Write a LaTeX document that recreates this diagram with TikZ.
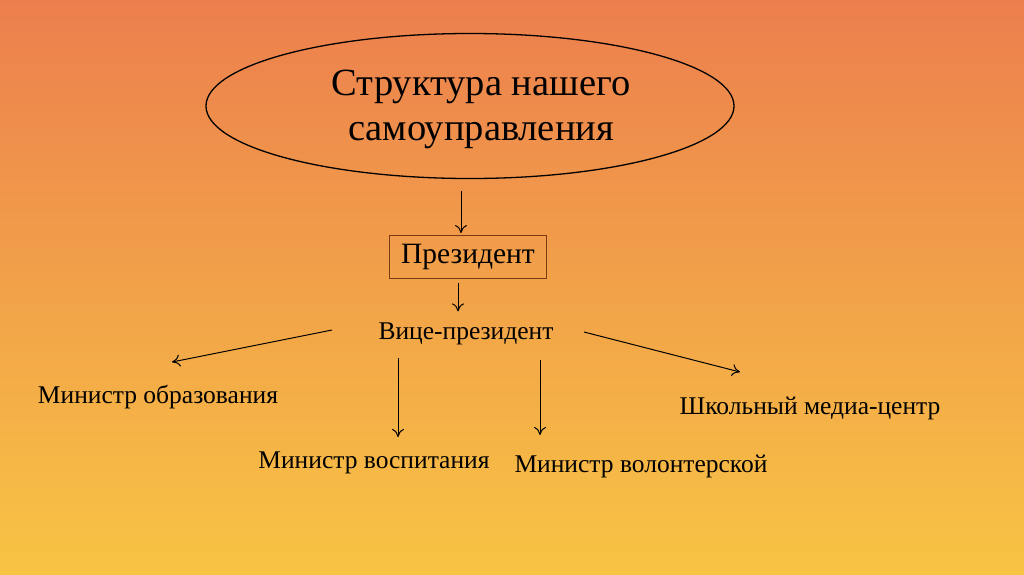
\documentclass[tikz,border=0pt]{standalone}
\usepackage{fontspec}
\setmainfont{Liberation Serif}
\usetikzlibrary{shapes.geometric,arrows.meta}

\definecolor{haut}{HTML}{EC7F4E}
\definecolor{bas}{HTML}{F8C444}
\definecolor{cadre}{HTML}{7A3A12}

\begin{document}
\begin{tikzpicture}[x=1pt,y=-1pt]
        \tikzstyle{titre_st} = [ellipse, draw=black, line width=1.3pt, minimum width=528pt, minimum height=145pt, inner sep=0pt]
        \tikzstyle{titre_txt} = [align=center, font=\fontsize{38.5}{45}\selectfont]
        \tikzstyle{boite} = [rectangle, draw=cadre, line width=0.8pt, minimum width=157pt, minimum height=43pt, font=\fontsize{29.5}{34}\selectfont]
        \tikzstyle{poste} = [font=\fontsize{25.5}{30}\selectfont]
        \tikzstyle{fleche} = [-{To[length=8pt,width=12pt]}, line width=1pt]
        \shade[top color=haut, bottom color=bas] (0,0) rectangle (1024,574);
        \useasboundingbox (0,0) rectangle (1024,574);
        \node (titre) [titre_st] at (470,106) {};
        \node (texte) [titre_txt] at (481,109) {Структура нашего\\самоуправления};
        \node (president) [boite] at (468,257) {Президент};
        \node (vice) [poste] at (466,334) {Вице-президент};
        \node (obr) [poste] at (158,397) {Министр образования};
        \node (media) [poste] at (810,408) {Школьный медиа-центр};
        \node (vosp) [poste] at (374,463) {Министр воспитания};
        \node (volont) [poste] at (641,466) {Министр волонтерской};
        \draw[fleche] ([shift={(-9,12)}]titre.south) -- ([shift={(-7,-2)}]president.north);
        \draw[fleche] ([shift={(-10,4)}]president.south) -- ([shift={(-8,-8)}]vice.north);
        \draw[fleche] ([shift={(-134,-4)}]vice.center) -- ([shift={(14,-35)}]obr.center);
        \draw[fleche] ([shift={(118,-2)}]vice.center) -- ([shift={(-70,-36)}]media.center);
        \draw[fleche] ([shift={(-68,24)}]vice.center) -- ([shift={(24,-26)}]vosp.center);
        \draw[fleche] ([shift={(74,26)}]vice.center) -- ([shift={(-101,-31)}]volont.center);
\end{tikzpicture}
\end{document}
